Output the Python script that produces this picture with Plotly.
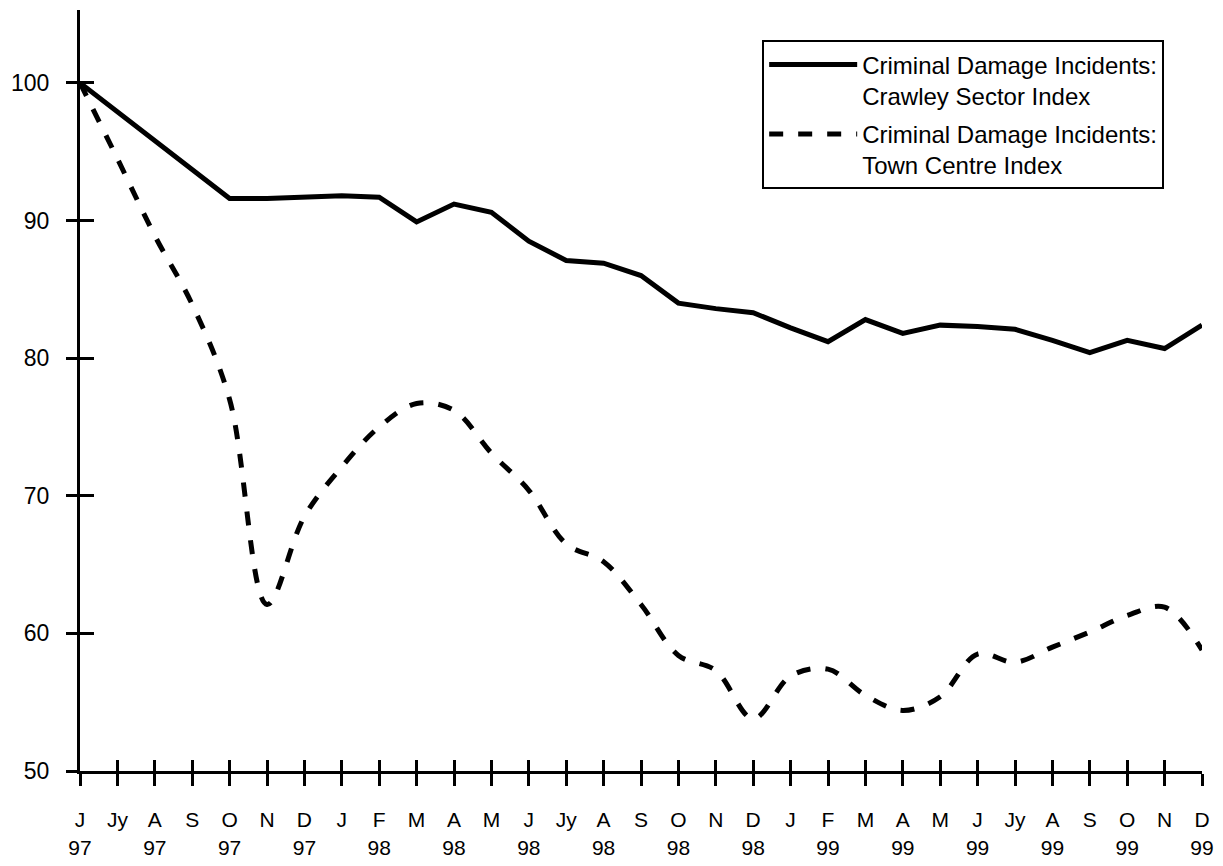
import pandas as pd
import plotly.graph_objects as go

INK = "#000000"
FONT = "Liberation Sans, Arial, Helvetica, sans-serif"

PERIODS = [p.strftime("%Y-%m") for p in pd.period_range("1997-06", "1999-12", freq="M")]
MONTH_LABELS = ["J", "Jy", "A", "S", "O", "N", "D",
                "J", "F", "M", "A", "M", "J", "Jy", "A", "S", "O", "N", "D",
                "J", "F", "M", "A", "M", "J", "Jy", "A", "S", "O", "N", "D"]
YEAR_LABELS = ["97"] * 7 + ["98"] * 12 + ["99"] * 12

CRAWLEY_INDEX = [100, 97.9, 95.8, 93.7, 91.6, 91.6, 91.7, 91.8, 91.7, 89.9, 91.2,
                 90.6, 88.5, 87.1, 86.9, 86.0, 84.0, 83.6, 83.3, 82.2, 81.2,
                 82.8, 81.8, 82.4, 82.3, 82.1, 81.3, 80.4, 81.3, 80.7, 82.4]
TOWN_CENTRE_INDEX = [100, 94.5, 88.9, 83.9, 77.0, 62.1, 68.5, 72.1, 75.0, 76.7, 76.2,
                     73.1, 70.4, 66.5, 65.2, 62.1, 58.4, 57.3, 53.8, 56.9, 57.4,
                     55.5, 54.4, 55.4, 58.5, 57.9, 59.0, 60.1, 61.3, 61.9, 58.8]
Y_TICKS = [50, 60, 70, 80, 90, 100]

# year printed under every second month only
tick_text = [
    f"{m}<br>{y}" if i % 2 == 0 else f"{m}<br>\u00a0"
    for i, (m, y) in enumerate(zip(MONTH_LABELS, YEAR_LABELS))
]

fig = go.Figure()
fig.add_trace(
    go.Scatter(
        x=PERIODS,
        y=CRAWLEY_INDEX,
        mode="lines",
        name="Criminal Damage Incidents:<br>Crawley Sector Index",
        legendgroup="crawley",
        line=dict(color=INK, width=5),
    )
)
fig.add_trace(
    go.Scatter(
        x=PERIODS,
        y=TOWN_CENTRE_INDEX,
        mode="lines",
        name="Criminal Damage Incidents:<br>Town Centre Index",
        legendgroup="town",
        line=dict(color=INK, width=5, dash="14px,15px", shape="spline", smoothing=1),
    )
)
# empty trace that carries the mirrored axes (ticks crossing the axis lines)
fig.add_trace(
    go.Scatter(x=PERIODS, y=[None] * len(PERIODS), xaxis="x2", yaxis="y2",
               showlegend=False, hoverinfo="skip")
)

axis_common = dict(showgrid=False, zeroline=False, tickcolor=INK, tickwidth=3, automargin=False)
# page body adds an 8px margin, so the figure is 8px smaller than the window
fig.update_layout(
    width=1215,
    height=858,
    margin=dict(l=72, r=21, t=2, b=95),
    paper_bgcolor="white",
    plot_bgcolor="white",
    font=dict(family=FONT, color=INK, size=21),
    showlegend=True,
    legend=dict(
        x=0.608, y=0.96, xanchor="left", yanchor="top",
        bgcolor="white", bordercolor=INK, borderwidth=2,
        font=dict(size=24), itemwidth=88, valign="top",
        tracegroupgap=4,
    ),
    xaxis=dict(
        type="category", categoryarray=PERIODS, range=[0, len(PERIODS) - 1],
        tickmode="array", tickvals=PERIODS, ticktext=tick_text,
        ticks="outside", ticklen=12, showline=True, linecolor=INK, linewidth=3,
        tickfont=dict(size=21), ticklabelstandoff=16, anchor="y",
        **axis_common,
    ),
    yaxis=dict(
        range=[50, 105.3], tickvals=Y_TICKS, ticks="outside", ticklen=11,
        showline=True, linecolor=INK, linewidth=3,
        tickfont=dict(size=23), ticklabelstandoff=12, anchor="x",
        **axis_common,
    ),
    xaxis2=dict(
        overlaying="x", matches="x", anchor="y", type="category",
        tickmode="array", tickvals=PERIODS, ticks="inside", ticklen=11,
        showticklabels=False, showline=False, **axis_common,
    ),
    yaxis2=dict(
        overlaying="y", matches="y", anchor="x", tickvals=Y_TICKS,
        ticks="inside", ticklen=14, showticklabels=False, showline=False,
        **axis_common,
    ),
)

fig.write_html("out.html")
